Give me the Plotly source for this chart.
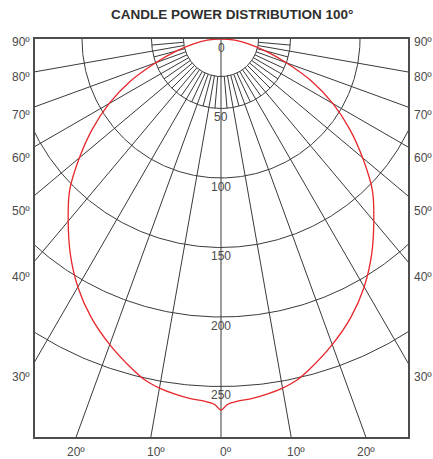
import numpy as np
import plotly.graph_objects as go

chart_title = "CANDLE POWER DISTRIBUTION 100°"

# intensity (cd) against angle from nadir, curve is symmetric
beam_angles = [0, 1, 2.5, 5, 7.5, 10, 12.5, 15, 20, 25, 30, 35, 40, 45,
               50, 55, 60, 65, 70, 75, 80, 85, 90]
candela = [267, 263, 261, 259.5, 257.5, 255, 251.5, 246, 234, 221, 206, 189,
           171, 154, 133, 113, 93, 72, 50, 33, 20, 10, 0]

ring_values = [50, 100, 150, 200, 250]
center_ring = 27
center_label = "0"
spoke_angles = [-80, -70, -60, -50, -40, -30, -20, -10, 0, 10, 20, 30, 40, 50, 60, 70, 80]
short_spoke_angles = [-85, -75, -65, -55, -45, -35, -25, -15, -5,
                      5, 15, 25, 35, 45, 55, 65, 75, 85]
side_angles = [90, 80, 70, 60, 50, 40, 30]
bottom_angles = [-20, -10, 0, 10, 20]

W, H = 433, 459
ML, MR, MT, MB = 35, 25, 39, 22
SCALE = 1.39          # pixels per candela
POLE_X = 221 - ML     # pole offset from the left edge of the plot box

GRID = "#3a3a3a"
TEXT = "#4a4a4a"
FONT = "Liberation Sans, Arial, sans-serif"

pw, ph = W - ML - MR, H - MT - MB
x_range = [-POLE_X / SCALE, (pw - POLE_X) / SCALE]
y_range = [-ph / SCALE, 0]


def polar(r, deg):
    t = np.radians(deg)
    return r * np.sin(t), -r * np.cos(t)


fig = go.Figure()

# rings
gx, gy = [], []
arc = np.linspace(-90, 90, 361)
for r in [center_ring] + ring_values:
    x, y = polar(r, arc)
    gx += list(x) + [None]
    gy += list(y) + [None]

# spokes: every 10 deg run out to the frame, the 5 deg ones stop at the first ring
for a in spoke_angles:
    r0 = 0 if a == 0 else center_ring
    x, y = polar(np.array([r0, 600]), a)
    gx += list(x) + [None]
    gy += list(y) + [None]
for a in short_spoke_angles:
    x, y = polar(np.array([center_ring, ring_values[0]]), a)
    gx += list(x) + [None]
    gy += list(y) + [None]

fig.add_trace(go.Scatter(x=gx, y=gy, mode="lines",
                         line=dict(color=GRID, width=1), hoverinfo="skip"))

# distribution curve, mirrored about nadir
ang = np.array(beam_angles, dtype=float)
cd = np.array(candela, dtype=float)
full_ang = np.concatenate([-ang[::-1], ang[1:]])
full_cd = np.concatenate([cd[::-1], cd[1:]])
cx, cy = polar(full_cd, full_ang)
fig.add_trace(go.Scatter(x=cx, y=cy, mode="lines",
                         line=dict(color="#e8262b", width=1.3, shape="spline", smoothing=1.0),
                         hovertemplate="%{text}<extra></extra>",
                         text=[f"{a:g}°: {c:g} cd" for a, c in zip(full_ang, full_cd)]))

annotations = []
lab_font = dict(family=FONT, size=12, color=TEXT)

# candela labels down the centre line, just below each ring
for r, t in [(0, center_label)] + [(v, str(v)) for v in ring_values]:
    annotations.append(dict(x=0, y=-(r + 8.6 / SCALE), text=t,
                            showarrow=False, font=lab_font,
                            xanchor="center", yanchor="middle"))

# angle labels on both sides, a little below where each spoke meets the frame
for a in side_angles:
    cross_px = POLE_X / np.tan(np.radians(a)) if a < 90 else 0
    off_px = min(3 + cross_px * 0.08, 16)
    y = -(cross_px + off_px) / SCALE
    for xp in (-14 / pw, 1 + 15 / pw):
        annotations.append(dict(x=xp, xref="paper", y=y, text=f"{a}º",
                                showarrow=False, font=lab_font,
                                xanchor="center", yanchor="middle"))

# angle labels along the bottom
for a in bottom_angles:
    off = 5 if abs(a) <= 10 else 0
    xb = (ph * np.tan(np.radians(a)) + off) / SCALE
    annotations.append(dict(x=xb, y=0, yref="paper", yshift=-15, text=f"{abs(a)}º",
                            showarrow=False, font=lab_font,
                            xanchor="center", yanchor="middle"))

# title, 14px from the top of the page
annotations.append(dict(x=(232 - ML) / pw, xref="paper", y=1 + (MT - 14) / ph, yref="paper",
                        text=f"<b>{chart_title}</b>", showarrow=False,
                        font=dict(family=FONT, size=13.5, color="#2e2e2e"),
                        xanchor="center", yanchor="middle"))

axis = dict(showgrid=False, zeroline=False, showticklabels=False, ticks="",
            showline=True, mirror=True, linecolor="#4d4d4d", linewidth=2)
fig.update_xaxes(range=x_range, **axis)
fig.update_yaxes(range=y_range, **axis)

fig.update_layout(
    width=W, height=H,
    margin=dict(l=ML, r=MR, t=MT, b=MB),
    paper_bgcolor="white", plot_bgcolor="white",
    showlegend=False,
    annotations=annotations,
)

# drop the default 8px page margin so the figure fills the window exactly
fig.write_html("out.html", config={"displayModeBar": False},
               post_script="document.body.style.margin='0px';")
